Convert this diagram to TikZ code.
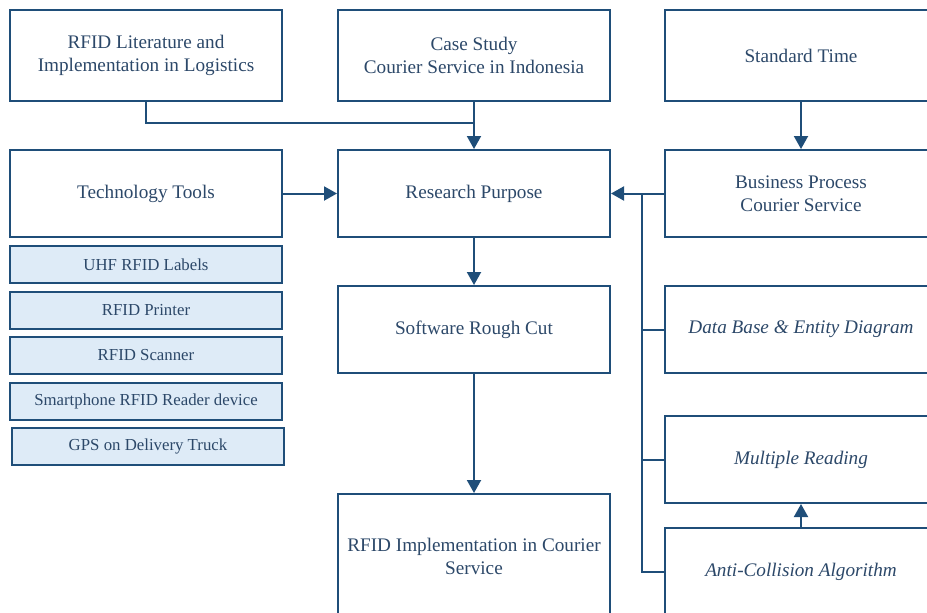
\documentclass[tikz,border=0pt]{standalone}
\usepackage{fontspec}
\setmainfont{Liberation Serif}
\usepackage{tikz}
\usetikzlibrary{arrows.meta}

\definecolor{lineblue}{RGB}{31,78,121}
\definecolor{textblue}{RGB}{44,72,105}
\definecolor{toolfill}{RGB}{222,235,247}

\tikzset{
  block/.style = {draw=lineblue, line width=1pt, fill=white, text=textblue, align=center,
                  minimum width=136pt, minimum height=43.5pt, inner sep=2pt,
                  font=\fontsize{9.6}{11.5}\selectfont},
  tallblock/.style = {block, minimum height=45.5pt},
  toolbox/.style = {block, fill=toolfill, minimum height=18.5pt, font=\fontsize{8.4}{10}\selectfont},
  link/.style = {draw=lineblue, line width=1pt},
  arr/.style = {link, -{Triangle[length=6.5pt,width=7pt]}}
}

\begin{document}
\begin{tikzpicture}[x=0.5pt, y=-0.5pt]
\useasboundingbox (0,0) rectangle (927,612);
\clip (0,0) rectangle (927,612);

%top row
\node[tallblock] (lit) at (146, 55.5) {RFID Literature and\\Implementation in Logistics};
\node[tallblock] (casestudy) at (474, 55.5) {Case Study\\Courier Service in Indonesia};
\node[tallblock] (stdtime) at (801, 55.5) {Standard Time};

%second row
\node[block] (tech) at (146, 193.5) {Technology Tools};
\node[block] (purpose) at (474, 193.5) {Research Purpose};
\node[block] (business) at (801, 193.5) {Business Process\\Courier Service};

%tools list
\node[toolbox] (uhf) at (146, 264.5) {UHF RFID Labels};
\node[toolbox] (printer) at (146, 310) {RFID Printer};
\node[toolbox] (scanner) at (146, 355) {RFID Scanner};
\node[toolbox] (phone) at (146, 401) {Smartphone RFID Reader device};
\node[toolbox] (gps) at (148, 446) {GPS on Delivery Truck};

%middle column
\node[block] (rough) at (474, 329.5) {Software Rough Cut};
\node[block, minimum height=62pt] (impl) at (474, 556) {RFID Implementation in Courier\\Service};

%right column
\node[block] (database) at (801, 329.5) {\itshape Data Base \& Entity Diagram};
\node[block] (multiple) at (801, 459.5) {\itshape Multiple Reading};
\node[block] (anticoll) at (801, 571.5) {\itshape Anti-Collision Algorithm};

%connectors
\coordinate (join) at (474, 123);
\coordinate (bus) at (642, 193.5);

\draw[link] (lit.south) |- (join);
\draw[arr] (casestudy.south) -- (purpose.north);
\draw[arr] (tech.east) -- (purpose.west);
\draw[arr] (stdtime.south) -- (business.north);
\draw[arr] (business.west) -- (purpose.east);
\draw[link] (anticoll.west) -- (anticoll.west -| bus) -- (bus);
\draw[link] (database.west) -- (database.west -| bus);
\draw[link] (multiple.west) -- (multiple.west -| bus);
\draw[arr] (purpose.south) -- (rough.north);
\draw[arr] (rough.south) -- (impl.north);
\draw[arr] (anticoll.north) -- (multiple.south);

\end{tikzpicture}
\end{document}
